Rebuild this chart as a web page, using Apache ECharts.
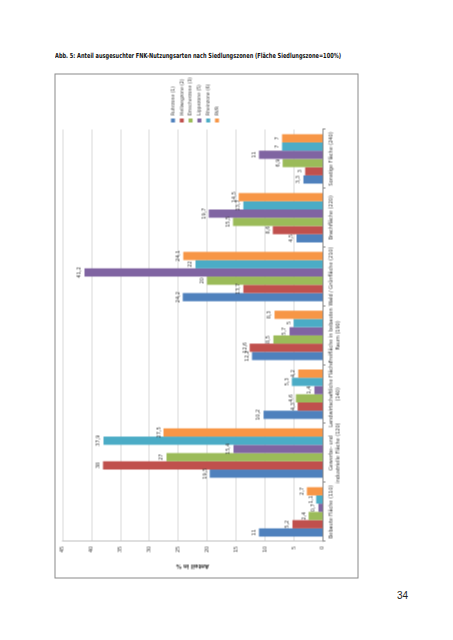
<!DOCTYPE html>
<html><head><meta charset="utf-8">
<script src="https://cdn.jsdelivr.net/npm/echarts@6/dist/echarts.min.js"></script>
<style>
html,body{margin:0;padding:0;background:#fff;width:453px;height:640px;overflow:hidden;}
#title{position:absolute;left:55px;top:52px;font:bold 7px "Liberation Sans Narrow","DejaVu Sans Condensed","Arial Narrow",sans-serif;color:#111;white-space:nowrap;transform-origin:0 0;}
#page{position:absolute;left:397px;top:590px;font:10px "Liberation Sans","DejaVu Sans",sans-serif;color:#222;}
#wrap{position:absolute;width:505px;height:304px;left:-46.5px;top:173.5px;transform:rotate(-90deg);transform-origin:50% 50%;box-sizing:border-box;border:1px solid #8a8a8a;background:#fff;}
#chart{width:503px;height:302px;}
</style></head>
<body>
<div id="title">Abb. 5: Anteil ausgesuchter FNK-Nutzungsarten nach Siedlungszonen (Fläche Siedlungszone=100%)</div>
<div id="wrap"><div id="chart"></div></div>
<div id="page">34</div>
<script>
var categories = ["Bebaute Fläche (110)", "Gewerbe- und\nindustrielle Fläche (120)", "Landwirtschaftliche Fläche\n(140)", "Freifläche in bebauten\nRaum (190)", "Wald / Grünfläche (210)", "Brachfläche (220)", "Sonstige Fläche (240)"];
var seriesNames = ["Ruhrzone (1)", "Hellwegzone (2)", "Emscherzone (3)", "Lippezone (5)", "Rheinzone (6)", "RVR"];
var ruhr    = [11, 19.5, 10.2, 12.2, 24.2, 4.5, 3.3];
var hellweg = [5.2, 38, 4.3, 12.6, 13.7, 8.6, 3];
var emscher = [2.4, 27, 4.6, 8.5, 20, 15.5, 6.9];
var lippe   = [0.7, 15.4, 1.4, 5.7, 41.2, 19.7, 11];
var rhein   = [1.1, 37.9, 5.3, 5, 22, 13.7, 7];
var rvr     = [2.7, 27.5, 4.2, 8.3, 24.1, 14.5, 7];
var valueTicks = [0, 5, 10, 15, 20, 25, 30, 35, 40, 45];

var colors = ["#4F81BD", "#C0504D", "#9BBB59", "#8064A2", "#4BACC6", "#F79646"];
var FONT = '"Liberation Sans Narrow","DejaVu Sans Condensed","Arial Narrow",sans-serif';

(function(){var t=document.getElementById('title');var w=t.getBoundingClientRect().width;t.style.transform='scaleX('+(286/w)+')';})();

var allData = [ruhr, hellweg, emscher, lippe, rhein, rvr];
var chart = echarts.init(document.getElementById('chart'), null, {renderer:'canvas'});
chart.setOption({
  animation:false,
  color: colors,
  textStyle:{fontFamily:FONT},
  legend:{
    orient:'vertical', left:455, top:115, padding:0,
    itemWidth:4, itemHeight:4, itemGap:3.8,
    icon:'rect',
    textStyle:{fontSize:5, color:'#333', fontFamily:FONT, padding:[0,0,0,-2]},
    data: seriesNames
  },
  grid:{left:29, right:55, top:7, bottom:35, containLabel:false},
  xAxis:{
    type:'category', data:categories,
    axisLine:{lineStyle:{color:'#868686', width:1}},
    axisTick:{show:true, length:3, lineStyle:{color:'#868686'}},
    axisLabel:{fontSize:5.5, color:'#333', lineHeight:7, interval:0, margin:5, fontFamily:FONT}
  },
  yAxis:{
    type:'value', min:0, max:45, interval:5,
    name:'Anteil in %', nameLocation:'middle', nameGap:16, nameRotate:90,
    nameTextStyle:{fontSize:6, fontWeight:'bold', color:'#333', fontFamily:FONT},
    axisLine:{show:true, lineStyle:{color:'#bfbfbf'}},
    axisTick:{show:false},
    splitLine:{lineStyle:{color:'#d9d9d9'}},
    axisLabel:{fontSize:5.5, color:'#333', margin:5, fontFamily:FONT,
      formatter:function(v){return valueTicks.indexOf(v)>=0?String(v):'';}}
  },
  series: seriesNames.map(function(n,i){
    return {
      name:n, type:'bar', data:allData[i],
      barGap:'0%', barCategoryGap:'16%',
      label:{show:true, position:'top', distance:2, fontSize:5.5, color:'#333', fontFamily:FONT,
        formatter:function(p){return String(p.value).replace('.', ',');}}
    };
  })
});
</script>
</body></html>
